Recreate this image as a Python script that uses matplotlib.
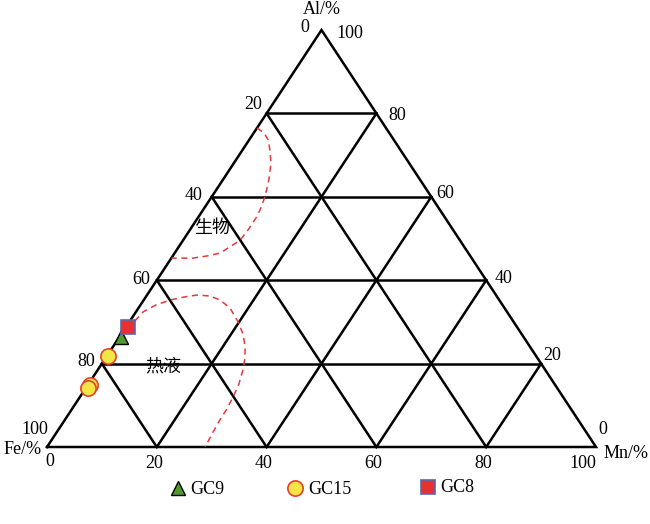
import matplotlib
matplotlib.use("Agg")
from matplotlib import pyplot as plt
import numpy as np

plt.rcParams['font.family'] = ['Liberation Serif', 'DejaVu Serif']

# samples, percent (Mn, Al); Fe = 100 - Mn - Al
gc9_mn = [0.3]
gc9_al = [26.4]
gc15_mn = [0.2, 0.4, 0.4]
gc15_al = [21.8, 14.9, 14.1]
gc8_mn = [0.35]
gc8_al = [28.8]

# field boundaries (Mn, Al)
bio_mn = [0.0, 1.9, 3.5, 5.0, 6.75, 8.4, 9.7, 10.3, 10.6, 10.6, 10.4, 9.3, 8.3, 6.2, 3.9, 1.6, 0.0]
bio_al = [76.5, 75.3, 73.6, 71.2, 68.1, 64.0, 60.0, 57.3, 55.2, 52.3, 49.6, 48.0, 46.5, 45.8, 45.3, 45.3, 45.3]
hyd_mn = [0.9, 1.3, 2.8, 4.8, 7.0, 9.1, 11.6, 13.9, 16.7, 19.8, 22.15, 24.1, 25.4, 26.45,
          27.4, 27.9, 28.2, 28.25, 28.5, 28.8]
hyd_al = [30.2, 32.4, 34.05, 35.25, 35.97, 36.45, 36.2, 35.25, 33.3, 30.0, 27.1, 24.0, 21.3, 18.5,
          15.1, 12.0, 9.1, 6.5, 3.1, 0.0]

ticks = [0, 20, 40, 60, 80, 100]

# triangle corners in figure pixels
X0, Y0, W, H = 47, 447, 549, 417

def tern(mn, al):
    mn = np.asarray(mn) / 100.0
    al = np.asarray(al) / 100.0
    return X0 + W * (mn + al / 2), Y0 - H * al

fig = plt.figure(figsize=(6.5, 5.24), dpi=100)
ax = fig.add_axes([0, 0, 1, 1])
ax.set_xlim(0, 650)
ax.set_ylim(524, 0)
ax.axis('off')

lw = 1.8
# outline
x, y = tern([0, 100, 0, 0], [0, 0, 100, 0])
ax.plot(x, y, color='black', lw=lw, solid_joinstyle='miter')
# grid
for v in ticks[1:-1]:
    x, y = tern([0, 100 - v], [v, v])          # constant Al
    ax.plot(x, y, color='black', lw=lw)
    x, y = tern([v, v], [0, 100 - v])          # constant Mn
    ax.plot(x, y, color='black', lw=lw)
    x, y = tern([0, 100 - v], [100 - v, 0])    # constant Fe
    ax.plot(x, y, color='black', lw=lw)

fs = 13
# tick labels (pixel nudges per label)
left_off = [(-4, -9), (-9, -1), (-7, -1), (-7, -2)]
right_off = [(2, -8), (8, -2), (5, -3), (12, 2)]
for i, v in enumerate(ticks[1:-1]):
    x, y = tern(0, 100 - v)
    ax.text(x + left_off[i][0], y + left_off[i][1], str(v), ha='right', va='center', fontsize=fs)
    x, y = tern(100 - v, v)
    ax.text(x + right_off[i][0], y + right_off[i][1], str(v), ha='left', va='center', fontsize=fs)
    x, y = tern(v, 0)
    ax.text(x - 3, y + 16, str(v), ha='center', va='center', fontsize=fs)
ax.text(50, 462, '0', ha='center', va='center', fontsize=fs)
ax.text(583, 464, '100', ha='center', va='center', fontsize=fs)
ax.text(35, 430, '100', ha='center', va='center', fontsize=fs)
ax.text(305, 28, '0', ha='center', va='center', fontsize=fs)
ax.text(350, 33, '100', ha='center', va='center', fontsize=fs)
ax.text(603, 430, '0', ha='center', va='center', fontsize=fs)
ax.text(322, 10, 'Al/%', ha='center', va='center', fontsize=fs)
ax.text(23, 450, 'Fe/%', ha='center', va='center', fontsize=fs)
ax.text(626, 453, 'Mn/%', ha='center', va='center', fontsize=fs)

# field boundaries
red = '#e8373a'
x, y = tern(bio_mn, bio_al)
ax.plot(x, y, color=red, lw=1.1, ls=(0, (4, 3)))
x, y = tern(hyd_mn, hyd_al)
ax.plot(x, y, color=red, lw=1.1, ls=(0, (4, 3)))

cjk = ['Noto Sans CJK SC', 'DejaVu Sans']
ax.text(212, 228, '生物', ha='center', va='center', fontsize=13, family=cjk)
ax.text(163, 366, '热液', ha='center', va='center', fontsize=13, family=cjk)

# samples
tri = dict(marker='^', ms=10, mfc='#4f9a2c', mec='black', mew=1.0, ls='none')
cir = dict(marker='o', ms=11, mfc='#f2e646', mec='#e8402a', mew=1.2, ls='none')
sq = dict(marker='s', ms=10, mfc='#e33232', mec='#5a68a8', mew=1.2, ls='none')
x, y = tern(gc15_mn, gc15_al)
ax.plot(x, y, **cir)
x, y = tern(gc9_mn, gc9_al)
ax.plot(x, y, **tri)
x, y = tern(gc8_mn, gc8_al)
ax.plot(x, y, **sq)

# legend
ax.plot([178], [488], **tri)
ax.text(190, 489, 'GC9', ha='left', va='center', fontsize=fs)
ax.plot([295], [488], **cir)
ax.text(308, 489, 'GC15', ha='left', va='center', fontsize=fs)
ax.plot([428], [487], **sq)
ax.text(440, 488, 'GC8', ha='left', va='center', fontsize=fs)

fig.savefig('out.png', dpi=100)
